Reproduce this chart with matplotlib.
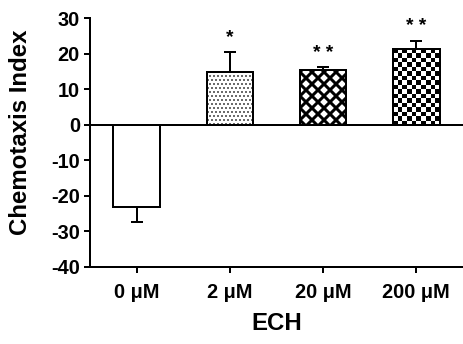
import numpy as np
import matplotlib
matplotlib.use("Agg")
import matplotlib.pyplot as plt
from matplotlib.patches import Rectangle

categories = ["0 \u03bcM", "2 \u03bcM", "20 \u03bcM", "200 \u03bcM"]
values = [-23.0, 14.8, 15.3, 21.3]
errors = [4.4, 5.7, 0.8, 2.3]
stars = ["", "*", "* *", "* *"]
yticks = [-40, -30, -20, -10, 0, 10, 20, 30]

plt.rcParams['font.family'] = ['Liberation Sans', 'DejaVu Sans']
plt.rcParams['font.weight'] = 'bold'

DPI = 72
fig = plt.figure(figsize=(463 / DPI, 344 / DPI), dpi=DPI)
ax = fig.add_axes([90 / 463, 1 - 267 / 344, 1 - 90 / 463, (267 - 18) / 344])

x = np.arange(len(categories))
hatches = [None, "...", "xx", None]
hlw = [1, 0.8, 3.0, 1]
bars = []
for i in range(len(categories)):
    b = ax.bar(x[i], values[i], width=0.5, color="white", edgecolor="black",
               linewidth=2, hatch=hatches[i], zorder=2)[0]
    if hasattr(b, "set_hatch_linewidth"):
        b.set_hatch_linewidth(hlw[i])
    bars.append(b)
    sign = 1 if values[i] >= 0 else -1
    ax.errorbar(x[i], values[i], yerr=[[0] if sign > 0 else [errors[i]],
                                        [errors[i]] if sign > 0 else [0]],
                fmt="none", ecolor="black", elinewidth=2, capsize=6,
                capthick=2, zorder=1)
    if stars[i]:
        ax.text(x[i], values[i] + errors[i] + 1.6, stars[i], ha="center",
                va="bottom", fontsize=19, fontweight="bold")

# checkerboard fill for last bar
b = bars[3]
bx, by = b.get_x(), b.get_y()
bw, bh = b.get_width(), b.get_height()
nx, ny = 10, 17
board = (np.add.outer(np.arange(ny), np.arange(nx)) % 2).astype(float)
im = ax.imshow(board, cmap="gray", extent=[bx, bx + bw, by, by + bh],
               origin="lower", aspect="auto", interpolation="nearest", zorder=2)
im.set_clip_path(b)
ax.add_patch(Rectangle((bx, by), bw, bh, fill=False, edgecolor="black",
                       linewidth=2, zorder=3))

ax.axhline(0, color="black", linewidth=2, zorder=4)

ax.set_xlim(-0.5, 3.5)
ax.set_ylim(-40, 30)
ax.set_yticks(yticks)
ax.set_yticklabels([str(t) for t in yticks])
ax.set_xticks(x)
ax.set_xticklabels(categories)
for s in ["top", "right"]:
    ax.spines[s].set_visible(False)
for s in ["left", "bottom"]:
    ax.spines[s].set_linewidth(2)
ax.tick_params(width=2, length=6, labelsize=20)
ax.tick_params(axis="x", pad=10)
ax.tick_params(axis="y", pad=4)
for lab in ax.get_xticklabels() + ax.get_yticklabels():
    lab.set_fontweight("bold")
ax.set_ylabel("Chemotaxis Index", fontsize=24, fontweight="bold")
ax.yaxis.set_label_coords(-0.155, 0.54)
ax.set_xlabel("ECH", fontsize=24, fontweight="bold", labelpad=10)

fig.savefig("out.png", dpi=DPI)
